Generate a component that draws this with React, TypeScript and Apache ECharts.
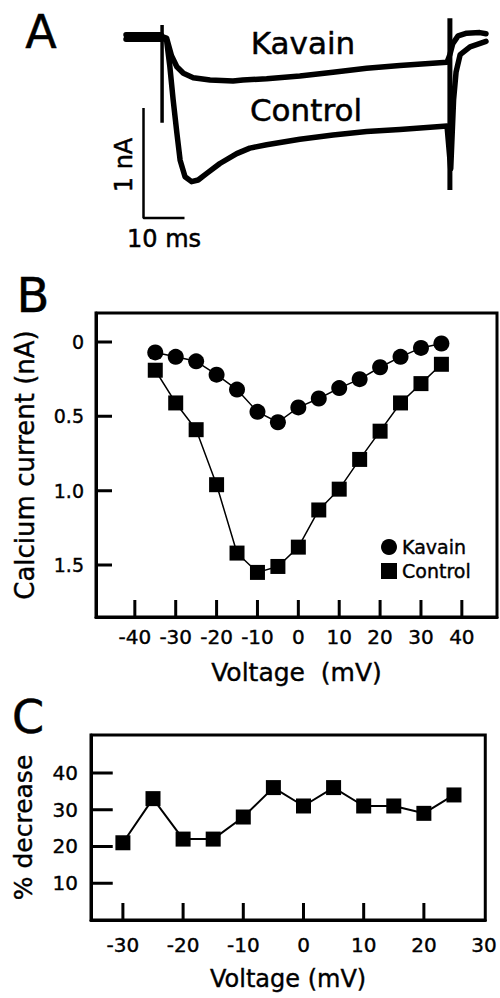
import React, { useEffect, useRef } from "react";
import * as echarts from "echarts";

const FONT = "DejaVu Sans";

// ---------- Panel A: current traces (time in ms, current in nA) ----------
const kavainTrace: [number, number][] = [
  [0, 0.02], [8.6, 0.02], [9.0, 0.0], [9.9, -0.01], [11.1, -0.17], [12.4, -0.27],
  [14.0, -0.33], [16.4, -0.37], [20.5, -0.39], [26.1, -0.4], [28.5, -0.39],
  [34.3, -0.38], [42.4, -0.355], [50.5, -0.32], [58.7, -0.285], [66.8, -0.26],
  [78.3, -0.23], [79.0, -0.16], [79.7, -0.06], [81.0, 0.01], [83.1, 0.035],
  [86.3, 0.04], [87.8, 0.03],
];
const controlTrace: [number, number][] = [
  [0, -0.02], [8.6, -0.02], [9.0, -0.01], [9.9, -0.03], [10.7, -0.27], [11.5, -0.57],
  [12.4, -0.87], [13.2, -1.12], [14.4, -1.27], [16.0, -1.315], [17.6, -1.3],
  [19.7, -1.24], [22.9, -1.15], [27.0, -1.06], [30.2, -1.01], [34.3, -0.98],
  [42.4, -0.93], [50.5, -0.89], [58.7, -0.86], [66.8, -0.84], [78.3, -0.81],
  [79.2, -1.2], [79.9, -0.57], [80.5, -0.32], [81.5, -0.16], [83.9, -0.09], [87.8, -0.04],
];
const onsetTransient: [number, number][] = [[8.8, 0.11], [8.8, -0.78]];
const offsetTransient: [number, number][] = [[79.0, 0.17], [79.0, -1.39]];
const scaleBar: [number, number][] = [[4.27, -0.645], [4.27, -1.645], [14.27, -1.645]];

// ---------- Panel B: I-V relation ----------
const voltagesB = [-35, -30, -25, -20, -15, -10, -5, 0, 5, 10, 15, 20, 25, 30, 35];
const kavainCurrent = [0.07, 0.1, 0.13, 0.22, 0.32, 0.47, 0.54, 0.44, 0.38, 0.31, 0.25, 0.17, 0.1, 0.04, 0.01];
const controlCurrent = [0.19, 0.41, 0.59, 0.96, 1.42, 1.55, 1.51, 1.38, 1.13, 0.99, 0.79, 0.6, 0.41, 0.28, 0.15];
const ticksBx = [-40, -30, -20, -10, 0, 10, 20, 30, 40];
const ticksBy = [0, 0.5, 1.0, 1.5];

// ---------- Panel C: % decrease ----------
const voltagesC = [-30, -25, -20, -15, -10, -5, 0, 5, 10, 15, 20, 25];
const percentDecrease = [21, 33, 22, 22, 28, 36, 31, 36, 31, 31, 29, 34];
const ticksCx = [-30, -20, -10, 0, 10, 20];
const labelsCx = [-30, -20, -10, 0, 10, 20, 30];
const ticksCy = [10, 20, 30, 40];

// axis extents and plot boxes (px)
const B_X = [-49.5, 48.6];
const B_Y = [-0.195, 1.85];
const C_X = [-35.3, 30.2];
const C_Y = [0, 50.3];
const gridB = { left: 96, top: 313, width: 401, height: 304 };
const gridC = { left: 91, top: 735, width: 399, height: 185 };

const zip = (xs: number[], ys: number[]) => xs.map((x, i) => [x, ys[i]]);

function tickData(
  values: number[], dim: "x" | "y", xExt: number[], yExt: number[],
  box: { width: number; height: number }, lenPx: number, yInverse: boolean
) {
  const out: (number | null)[][] = [];
  if (dim === "x") {
    const edge = yInverse ? yExt[1] : yExt[0];
    const d = ((lenPx * (yExt[1] - yExt[0])) / box.height) * (yInverse ? -1 : 1);
    values.forEach((v) => { out.push([v, edge], [v, edge + d], [v, null]); });
  } else {
    const edge = xExt[0];
    const d = (lenPx * (xExt[1] - xExt[0])) / box.width;
    values.forEach((v) => { out.push([edge, v], [edge + d, v], [null, v]); });
  }
  return out;
}

export default function App() {
  const ref = useRef<HTMLDivElement>(null);
  useEffect(() => {
    if (!ref.current) return;
    const chart = echarts.init(ref.current, null, { renderer: "svg" });
    const black = "#000";
    const txt = (size: number) => ({
      color: black, fontFamily: FONT, fontSize: size, textBorderColor: black, textBorderWidth: 0.4,
    });
    const gtxt = (text: string, size: number) => ({
      text, fontSize: size, fontFamily: FONT, fill: black, stroke: black, lineWidth: 0.5,
      textAlign: "center", textVerticalAlign: "middle",
    });
    const tickSeries = (name: string, idx: number, data: (number | null)[][]) => ({
      name, type: "line", xAxisIndex: idx, yAxisIndex: idx, data, symbol: "none", showSymbol: false,
      connectNulls: false, clip: false, z: 10, silent: true,
      lineStyle: { color: black, width: 3, cap: "butt" },
    });

    const hiddenAxis = { show: false, type: "value" as const };
    const boxLine = () => ({ show: true, onZero: false, lineStyle: { color: black, width: 3 } });

    chart.setOption({
      animation: false,
      backgroundColor: "#fff",
      grid: [
        { left: 126, top: 4, width: 369, height: 225.5, show: false },
        { ...gridB, show: true, borderColor: black, borderWidth: 3, backgroundColor: "transparent" },
        { ...gridC, show: true, borderColor: black, borderWidth: 3, backgroundColor: "transparent" },
      ],
      xAxis: [
        { ...hiddenAxis, gridIndex: 0, min: 0, max: 90 },
        {
          type: "value", gridIndex: 1, min: B_X[0], max: B_X[1], position: "bottom",
          axisLine: boxLine(),
          splitLine: { show: false },
          axisTick: { show: false },
          axisLabel: { customValues: ticksBx, margin: 10, ...txt(20) },
          name: "Voltage  (mV)", nameLocation: "middle", nameGap: 43,
          nameTextStyle: txt(25),
        },
        {
          type: "value", gridIndex: 2, min: C_X[0], max: C_X[1], position: "bottom",
          axisLine: boxLine(),
          splitLine: { show: false },
          axisTick: { show: false },
          axisLabel: { customValues: labelsCx, margin: 15, ...txt(20) },
          name: "Voltage (mV)", nameLocation: "middle", nameGap: 47,
          nameTextStyle: txt(24),
        },
      ],
      yAxis: [
        { ...hiddenAxis, gridIndex: 0, min: -1.75, max: 0.3 },
        {
          type: "value", gridIndex: 1, inverse: true, min: B_Y[0], max: B_Y[1], position: "left",
          axisLine: boxLine(),
          splitLine: { show: false },
          axisTick: { show: false },
          axisLabel: {
            customValues: ticksBy, margin: 12, ...txt(19),
            formatter: (v: number) => (v === 0 ? "0" : v.toFixed(1)),
          },
          name: "Calcium current (nA)", nameLocation: "middle", nameRotate: 90, nameGap: 58,
          nameTextStyle: txt(26),
        },
        {
          type: "value", gridIndex: 2, min: C_Y[0], max: C_Y[1], position: "left",
          axisLine: boxLine(),
          splitLine: { show: false },
          axisTick: { show: false },
          axisLabel: { customValues: ticksCy, margin: 13, ...txt(20) },
          name: "% decrease", nameLocation: "middle", nameRotate: 90, nameGap: 55,
          nameTextStyle: txt(25),
        },
      ],
      legend: {
        orient: "vertical", left: 376, top: 532, itemWidth: 16, itemHeight: 16, itemGap: 4,
        textStyle: { ...txt(19), lineHeight: 20 },
        data: [{ name: "Kavain", icon: "circle" }, { name: "Control", icon: "rect" }],
        selectedMode: false,
      },
      series: [
        // Panel A
        { name: "Kavain trace", type: "line", xAxisIndex: 0, yAxisIndex: 0, data: kavainTrace, showSymbol: false, symbol: "none",
          lineStyle: { color: black, width: 5.5, cap: "round", join: "round" } },
        { name: "Control trace", type: "line", xAxisIndex: 0, yAxisIndex: 0, data: controlTrace, showSymbol: false, symbol: "none",
          lineStyle: { color: black, width: 5.5, cap: "round", join: "round" } },
        { name: "Onset", type: "line", xAxisIndex: 0, yAxisIndex: 0, data: onsetTransient, symbol: "none",
          lineStyle: { color: black, width: 3.5 } },
        { name: "Offset", type: "line", xAxisIndex: 0, yAxisIndex: 0, data: offsetTransient, symbol: "none",
          lineStyle: { color: black, width: 5 } },
        { name: "Scale", type: "line", xAxisIndex: 0, yAxisIndex: 0, data: scaleBar, symbol: "none",
          lineStyle: { color: black, width: 2.5 } },
        // Panel B
        tickSeries("B x ticks", 1, tickData(ticksBx, "x", B_X, B_Y, gridB, 17, true)),
        tickSeries("B y ticks", 1, tickData(ticksBy, "y", B_X, B_Y, gridB, 16, true)),
        { name: "Kavain", type: "line", xAxisIndex: 1, yAxisIndex: 1, data: zip(voltagesB, kavainCurrent),
          symbol: "circle", symbolSize: 16, itemStyle: { color: black }, lineStyle: { color: black, width: 1.5 } },
        { name: "Control", type: "line", xAxisIndex: 1, yAxisIndex: 1, data: zip(voltagesB, controlCurrent),
          symbol: "rect", symbolSize: 15, itemStyle: { color: black }, lineStyle: { color: black, width: 1.5 } },
        // Panel C
        tickSeries("C x ticks", 2, tickData(ticksCx, "x", C_X, C_Y, gridC, 17, false)),
        tickSeries("C y ticks", 2, tickData(ticksCy, "y", C_X, C_Y, gridC, 22, false)),
        { name: "% decrease", type: "line", xAxisIndex: 2, yAxisIndex: 2, data: zip(voltagesC, percentDecrease),
          symbol: "rect", symbolSize: 15, itemStyle: { color: black }, lineStyle: { color: black, width: 2 } },
      ],
      graphic: [
        { type: "text", x: 41, y: 32, style: gtxt("A", 46) },
        { type: "text", x: 33, y: 295, style: gtxt("B", 48) },
        { type: "text", x: 28, y: 717, style: gtxt("C", 46) },
        { type: "text", x: 303, y: 43, style: gtxt("Kavain", 31) },
        { type: "text", x: 306, y: 110, style: gtxt("Control", 31) },
        { type: "text", x: 124, y: 165, rotation: Math.PI / 2, style: gtxt("1 nA", 24) },
        { type: "text", x: 164, y: 239, style: gtxt("10 ms", 24) },
      ],
    });
    return () => chart.dispose();
  }, []);
  return <div ref={ref} style={{ position: "absolute", left: 0, top: 0, width: 500, height: 998 }} />;
}
